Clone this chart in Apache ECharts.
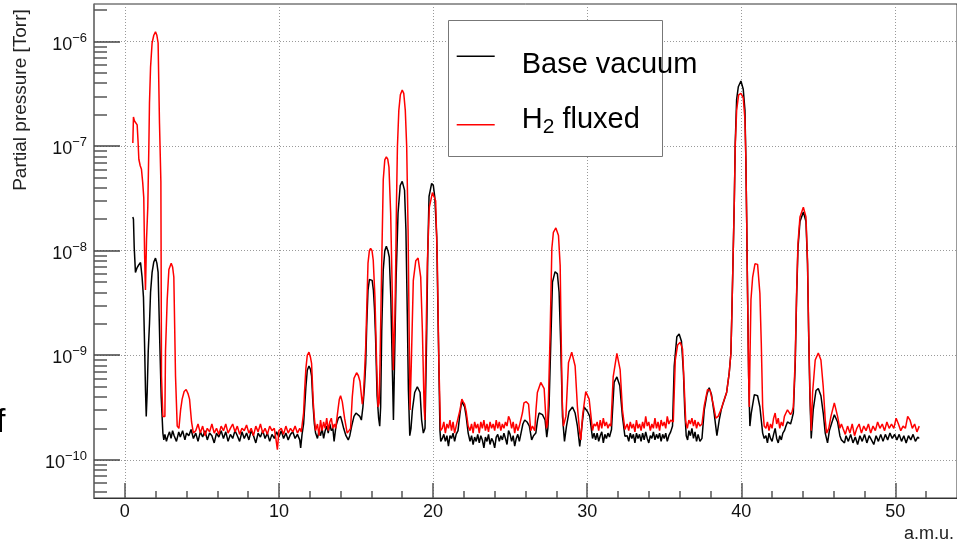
<!DOCTYPE html>
<html><head><meta charset="utf-8">
<script src="https://cdn.jsdelivr.net/npm/echarts@6/dist/echarts.min.js"></script>
<style>html,body{margin:0;padding:0;background:#fff;}#c{width:957px;height:541px;}</style>
</head><body><div id="c"></div>
<script>
// amu, partial pressure [Torr]
const baseVacuum = [
[0.52,2.1e-8],[0.56,2.0e-8],[0.61,1.07e-8],[0.69,6.2e-9],[0.8,6.9e-9],[0.9,7.3e-9],[1.02,7.7e-9],[1.12,5.6e-9],[1.21,3.6e-9],[1.28,1.3e-9],
[1.34,4.7e-10],[1.39,2.6e-10],[1.45,4.4e-10],[1.52,1.1e-9],[1.6,2.0e-9],[1.67,4.0e-9],[1.77,6.2e-9],[1.88,7.8e-9],[1.99,8.5e-9],[2.08,7.6e-9],
[2.16,6.2e-9],[2.27,1.3e-9],[2.36,4.0e-10],[2.47,1.8e-10],[2.53,1.55e-10],[2.6,1.75e-10],[2.7,1.5e-10],[2.8,1.7e-10],[2.9,1.85e-10],[3.0,1.6e-10],
[3.1,1.9e-10],[3.2,1.7e-10],[3.35,1.5e-10],[3.5,1.85e-10],[3.6,1.65e-10],[3.75,1.9e-10],[3.9,1.55e-10],[4.0,1.8e-10],[4.15,1.7e-10],[4.3,1.95e-10],
[4.45,1.6e-10],[4.6,1.8e-10],[4.75,1.5e-10],[4.9,1.85e-10],[5.05,1.65e-10],[5.2,1.9e-10],[5.35,1.55e-10],[5.5,1.8e-10],[5.65,1.7e-10],[5.8,1.45e-10],
[5.95,1.8e-10],[6.1,1.65e-10],[6.25,1.9e-10],[6.4,1.6e-10],[6.55,1.85e-10],[6.7,1.5e-10],[6.85,1.75e-10],[7.0,1.6e-10],[7.15,1.9e-10],[7.3,1.7e-10],
[7.45,1.5e-10],[7.6,1.85e-10],[7.75,1.6e-10],[7.9,1.8e-10],[8.05,1.55e-10],[8.2,1.9e-10],[8.35,1.7e-10],[8.5,1.45e-10],[8.65,1.8e-10],[8.8,1.65e-10],
[8.95,1.9e-10],[9.1,1.6e-10],[9.25,1.8e-10],[9.4,1.5e-10],[9.55,1.75e-10],[9.7,1.6e-10],[9.85,1.85e-10],[10.0,1.65e-10],[10.15,1.9e-10],[10.3,1.6e-10],
[10.45,1.8e-10],[10.6,1.55e-10],[10.75,1.75e-10],[10.9,1.85e-10],[11.05,1.6e-10],[11.2,1.75e-10],[11.35,1.55e-10],[11.41,1.3e-10],[11.5,1.75e-10],[11.6,2.2e-10],
[11.67,3.2e-10],[11.75,5.0e-10],[11.84,7.2e-10],[11.95,7.9e-10],[12.05,7.3e-10],[12.12,6.3e-10],[12.2,3.6e-10],[12.3,2.2e-10],[12.38,1.8e-10],[12.5,1.6e-10],
[12.6,1.9e-10],[12.7,1.7e-10],[12.8,2.0e-10],[12.9,1.6e-10],[13.0,1.9e-10],[13.1,2.1e-10],[13.2,1.8e-10],[13.3,2.2e-10],[13.4,1.9e-10],[13.5,2.0e-10],
[13.58,1.5e-10],[13.7,2.1e-10],[13.85,2.5e-10],[14.0,2.6e-10],[14.1,2.3e-10],[14.2,2.0e-10],[14.35,1.7e-10],[14.5,1.55e-10],[14.6,1.7e-10],[14.72,2.1e-10],
[14.87,2.6e-10],[15.0,2.8e-10],[15.12,2.7e-10],[15.25,2.6e-10],[15.35,2.4e-10],[15.45,3.2e-10],[15.55,5.0e-10],[15.63,8.3e-10],[15.7,2.0e-9],[15.78,4.2e-9],
[15.87,5.3e-9],[15.95,5.5e-9],[16.05,5.2e-9],[16.13,4.2e-9],[16.2,2.8e-9],[16.27,1.5e-9],[16.37,4.1e-10],[16.47,2.5e-10],[16.54,2.1e-10],[16.6,3.2e-10],
[16.67,1.7e-9],[16.77,6.6e-9],[16.87,1.0e-8],[16.97,1.1e-8],[17.07,1.0e-8],[17.16,8.7e-9],[17.26,3.6e-9],[17.37,6.3e-10],[17.43,2.4e-10],[17.5,8.3e-10],
[17.6,5.2e-9],[17.73,2.3e-8],[17.87,4.2e-8],[18.0,4.6e-8],[18.15,3.8e-8],[18.24,1.6e-8],[18.33,2.5e-9],[18.4,4.7e-10],[18.49,1.7e-10],[18.57,2.0e-10],
[18.66,3.0e-10],[18.81,4.4e-10],[18.98,5.0e-10],[19.16,4.4e-10],[19.26,2.4e-10],[19.37,1.8e-10],[19.48,2.0e-10],[19.59,1.7e-9],[19.66,1.0e-8],[19.74,3.3e-8],
[19.91,4.4e-8],[20.02,4.2e-8],[20.11,3.3e-8],[20.24,1.35e-8],[20.34,1.7e-9],[20.45,1.9e-10],[20.5,1.5e-10],[20.6,1.6e-10],[20.7,1.75e-10],[20.8,1.5e-10],
[20.9,1.7e-10],[21.0,1.35e-10],[21.1,1.7e-10],[21.2,1.6e-10],[21.3,1.8e-10],[21.4,1.5e-10],[21.5,1.75e-10],[21.62,1.9e-10],[21.75,2.8e-10],[21.87,3.7e-10],
[21.95,3.4e-10],[22.05,3.2e-10],[22.15,2.6e-10],[22.28,1.8e-10],[22.4,1.5e-10],[22.5,1.7e-10],[22.6,1.4e-10],[22.7,1.65e-10],[22.8,1.5e-10],[22.9,1.75e-10],
[23.0,1.45e-10],[23.1,1.7e-10],[23.2,1.55e-10],[23.3,1.3e-10],[23.4,1.65e-10],[23.5,1.5e-10],[23.6,1.75e-10],[23.7,1.4e-10],[23.8,1.6e-10],[23.9,1.5e-10],
[24.0,1.3e-10],[24.1,1.65e-10],[24.2,1.75e-10],[24.3,1.5e-10],[24.4,1.7e-10],[24.5,1.55e-10],[24.6,1.8e-10],[24.7,1.6e-10],[24.8,1.4e-10],[24.9,1.9e-10],
[25.0,1.75e-10],[25.1,1.5e-10],[25.2,1.7e-10],[25.3,1.35e-10],[25.4,1.6e-10],[25.5,1.75e-10],[25.6,1.5e-10],[25.71,1.8e-10],[25.83,2.2e-10],[25.95,2.4e-10],
[26.1,2.3e-10],[26.25,2.1e-10],[26.4,1.55e-10],[26.52,1.7e-10],[26.67,1.8e-10],[26.78,2.4e-10],[26.88,2.8e-10],[27.0,2.9e-10],[27.1,2.7e-10],[27.27,2.4e-10],
[27.38,1.65e-10],[27.45,2.0e-10],[27.53,3.3e-10],[27.64,1.3e-9],[27.75,5.0e-9],[27.92,6.3e-9],[28.07,6.0e-9],[28.18,4.0e-9],[28.29,1.2e-9],[28.4,2.6e-10],
[28.53,1.5e-10],[28.66,2.1e-10],[28.83,2.9e-10],[29.05,3.2e-10],[29.22,2.8e-10],[29.37,2.1e-10],[29.52,1.34e-10],[29.66,2.1e-10],[29.8,3.2e-10],[30.02,2.9e-10],
[30.17,2.6e-10],[30.35,1.6e-10],[30.45,1.8e-10],[30.55,1.55e-10],[30.65,1.8e-10],[30.75,1.5e-10],[30.85,1.7e-10],[30.95,1.85e-10],[31.05,1.45e-10],[31.15,1.75e-10],
[31.25,1.6e-10],[31.35,1.8e-10],[31.45,1.65e-10],[31.58,1.95e-10],[31.75,5.5e-10],[31.93,6.2e-10],[32.12,5.1e-10],[32.29,2.6e-10],[32.45,1.68e-10],[32.6,1.7e-10],
[32.7,1.5e-10],[32.8,1.8e-10],[32.9,1.6e-10],[33.0,1.75e-10],[33.1,1.45e-10],[33.2,1.8e-10],[33.3,1.6e-10],[33.4,1.75e-10],[33.5,1.5e-10],[33.6,1.8e-10],
[33.7,1.55e-10],[33.8,1.85e-10],[33.9,1.6e-10],[34.0,1.45e-10],[34.1,1.7e-10],[34.2,1.6e-10],[34.3,1.85e-10],[34.4,1.55e-10],[34.5,1.75e-10],[34.6,1.6e-10],
[34.7,1.8e-10],[34.8,1.5e-10],[34.9,1.75e-10],[35.0,1.6e-10],[35.1,1.8e-10],[35.2,1.5e-10],[35.3,1.7e-10],[35.42,1.85e-10],[35.54,2.1e-10],[35.65,7.9e-10],
[35.82,1.5e-9],[35.97,1.6e-9],[36.12,1.36e-9],[36.25,6.8e-10],[36.34,2.8e-10],[36.43,1.7e-10],[36.52,1.55e-10],[36.6,1.9e-10],[36.7,1.7e-10],[36.8,2.0e-10],
[36.9,1.6e-10],[37.0,1.85e-10],[37.1,1.5e-10],[37.2,1.75e-10],[37.32,1.5e-10],[37.45,1.6e-10],[37.6,3.0e-10],[37.77,4.2e-10],[37.92,4.9e-10],[38.07,4.2e-10],
[38.24,2.8e-10],[38.42,1.7e-10],[38.57,2.4e-10],[38.7,3.0e-10],[38.83,3.5e-10],[39.05,4.4e-10],[39.22,6.8e-10],[39.33,1.05e-9],[39.39,2.5e-9],[39.48,1.0e-8],
[39.55,3.0e-8],[39.61,1.07e-7],[39.7,2.8e-7],[39.81,3.7e-7],[39.98,4.2e-7],[40.13,3.5e-7],[40.24,2.2e-7],[40.3,7.4e-8],[40.35,2.1e-8],[40.41,3.9e-9],
[40.48,6.3e-10],[40.56,2.1e-10],[40.65,2.8e-10],[40.85,4.2e-10],[41.06,4.1e-10],[41.21,3.2e-10],[41.39,1.8e-10],[41.49,1.6e-10],[41.6,1.7e-10],[41.7,1.45e-10],
[41.8,1.8e-10],[41.9,1.6e-10],[42.0,1.5e-10],[42.1,1.75e-10],[42.2,2.0e-10],[42.3,1.6e-10],[42.4,1.45e-10],[42.5,1.7e-10],[42.6,1.55e-10],[42.7,1.8e-10],
[42.8,1.9e-10],[42.9,2.1e-10],[43.0,2.3e-10],[43.1,2.4e-10],[43.2,2.2e-10],[43.3,2.5e-10],[43.38,2.8e-10],[43.5,8.0e-10],[43.59,3.5e-9],[43.68,1.05e-8],
[43.81,1.9e-8],[44.03,2.35e-8],[44.2,1.9e-8],[44.3,7.5e-9],[44.37,1.7e-9],[44.46,3.8e-10],[44.54,1.6e-10],[44.67,3.0e-10],[44.85,4.6e-10],[45.0,4.8e-10],
[45.17,4.1e-10],[45.32,2.8e-10],[45.45,1.8e-10],[45.6,1.45e-10],[45.72,1.9e-10],[45.85,2.2e-10],[46.04,2.7e-10],[46.25,2.3e-10],[46.4,1.7e-10],[46.5,1.55e-10],
[46.6,1.6e-10],[46.7,1.45e-10],[46.8,1.7e-10],[46.95,1.5e-10],[47.1,1.75e-10],[47.25,1.45e-10],[47.4,1.65e-10],[47.55,1.4e-10],[47.7,1.7e-10],[47.85,1.5e-10],
[48.0,1.75e-10],[48.15,1.45e-10],[48.3,1.7e-10],[48.45,1.55e-10],[48.6,1.4e-10],[48.75,1.7e-10],[48.9,1.5e-10],[49.05,1.75e-10],[49.2,1.5e-10],[49.35,1.75e-10],
[49.5,1.55e-10],[49.65,1.8e-10],[49.8,1.6e-10],[49.95,1.75e-10],[50.1,1.55e-10],[50.25,1.75e-10],[50.4,1.5e-10],[50.55,1.7e-10],[50.7,1.45e-10],[50.85,1.7e-10],
[51.0,1.55e-10],[51.15,1.75e-10],[51.3,1.5e-10],[51.45,1.65e-10],[51.55,1.6e-10]
];
const h2Fluxed = [
[0.52,1.07e-7],[0.56,1.9e-7],[0.62,1.75e-7],[0.7,1.7e-7],[0.8,1.6e-7],[0.86,1.1e-7],[0.91,7.5e-8],[1.0,6.5e-8],[1.08,6.0e-8],[1.16,4.5e-8],
[1.23,3.2e-8],[1.28,1.0e-8],[1.31,6.0e-9],[1.34,4.2e-9],[1.41,1.3e-8],[1.49,2.6e-8],[1.56,1.0e-7],[1.6,2.6e-7],[1.67,5.7e-7],[1.77,9.7e-7],
[1.88,1.15e-6],[1.99,1.24e-6],[2.08,1.15e-6],[2.16,9.7e-7],[2.25,1.66e-7],[2.34,4.6e-8],[2.38,6.3e-10],[2.47,2.6e-10],[2.6,2.6e-10],[2.64,1.1e-9],
[2.75,3.4e-9],[2.86,6.6e-9],[3.01,7.6e-9],[3.1,7.0e-9],[3.18,5.6e-9],[3.29,6.3e-10],[3.4,2.1e-10],[3.51,2.0e-10],[3.62,3.0e-10],[3.72,3.8e-10],
[3.85,4.5e-10],[3.98,4.7e-10],[4.1,4.3e-10],[4.2,3.8e-10],[4.33,2.3e-10],[4.45,1.8e-10],[4.6,1.9e-10],[4.75,2.2e-10],[4.9,1.8e-10],[5.05,2.1e-10],
[5.2,1.7e-10],[5.35,2.0e-10],[5.5,1.85e-10],[5.65,2.2e-10],[5.8,1.8e-10],[5.95,2.0e-10],[6.1,1.75e-10],[6.25,2.1e-10],[6.4,1.9e-10],[6.55,2.2e-10],
[6.7,1.8e-10],[6.85,2.0e-10],[7.0,2.2e-10],[7.15,1.85e-10],[7.3,2.1e-10],[7.45,1.75e-10],[7.6,2.0e-10],[7.75,1.9e-10],[7.9,2.15e-10],[8.05,1.8e-10],
[8.2,2.0e-10],[8.35,1.7e-10],[8.5,2.1e-10],[8.65,1.85e-10],[8.8,2.2e-10],[8.95,1.8e-10],[9.1,2.0e-10],[9.25,1.75e-10],[9.4,2.1e-10],[9.55,1.9e-10],
[9.7,2.0e-10],[9.8,1.6e-10],[9.9,1.25e-10],[10.0,1.9e-10],[10.15,2.0e-10],[10.3,1.75e-10],[10.45,2.1e-10],[10.6,1.8e-10],[10.75,2.0e-10],[10.9,1.85e-10],
[11.05,2.1e-10],[11.2,1.8e-10],[11.35,2.0e-10],[11.45,1.85e-10],[11.52,1.9e-10],[11.6,2.8e-10],[11.67,4.7e-10],[11.75,7.5e-10],[11.84,1.0e-9],[11.95,1.07e-9],
[12.05,9.5e-10],[12.12,8.3e-10],[12.23,3.5e-10],[12.3,2.5e-10],[12.38,1.9e-10],[12.5,2.2e-10],[12.6,1.7e-10],[12.7,2.4e-10],[12.8,1.9e-10],[12.9,2.3e-10],
[13.0,2.0e-10],[13.1,2.5e-10],[13.2,1.9e-10],[13.3,2.3e-10],[13.4,2.5e-10],[13.5,2.0e-10],[13.6,2.2e-10],[13.68,2.0e-10],[13.83,3.0e-10],[13.92,3.8e-10],
[14.0,4.1e-10],[14.11,3.6e-10],[14.26,2.5e-10],[14.43,1.8e-10],[14.55,1.9e-10],[14.65,2.0e-10],[14.76,4.0e-10],[14.87,6.0e-10],[15.04,6.8e-10],[15.15,6.4e-10],
[15.26,5.6e-10],[15.41,3.4e-10],[15.48,4.1e-10],[15.56,7.0e-10],[15.63,1.2e-9],[15.69,2.5e-9],[15.78,7.6e-9],[15.87,1.0e-8],[15.95,1.05e-8],[16.04,1.0e-8],
[16.12,8.1e-9],[16.23,3.6e-9],[16.34,8.3e-10],[16.43,3.2e-10],[16.5,3.5e-10],[16.56,8.3e-10],[16.67,7.6e-9],[16.77,4.8e-8],[16.87,7.4e-8],[16.97,7.9e-8],
[17.06,7.5e-8],[17.14,6.3e-8],[17.25,2.3e-8],[17.36,3.6e-9],[17.42,7.2e-10],[17.47,7.2e-10],[17.53,2.5e-9],[17.58,7.6e-9],[17.63,3.0e-8],[17.69,1.0e-7],
[17.78,2.2e-7],[17.88,3.1e-7],[18.0,3.45e-7],[18.1,3.2e-7],[18.2,2.2e-7],[18.29,1.0e-7],[18.38,1.6e-8],[18.45,1.7e-9],[18.51,3.0e-10],[18.59,8.3e-10],
[18.72,5.2e-9],[18.88,8.0e-9],[19.03,8.5e-9],[19.2,5.6e-9],[19.31,1.7e-9],[19.42,3.2e-10],[19.47,2.4e-10],[19.52,8.3e-10],[19.63,7.6e-9],[19.76,2.6e-8],
[19.96,3.6e-8],[20.17,3.0e-8],[20.28,7.6e-9],[20.38,8.3e-10],[20.49,1.9e-10],[20.6,2.0e-10],[20.7,2.3e-10],[20.8,1.8e-10],[20.9,2.2e-10],[21.0,2.0e-10],
[21.1,2.4e-10],[21.2,1.9e-10],[21.3,2.3e-10],[21.4,1.8e-10],[21.5,2.1e-10],[21.62,2.1e-10],[21.75,3.0e-10],[21.87,3.8e-10],[21.95,3.6e-10],[22.05,3.4e-10],
[22.15,2.9e-10],[22.28,2.1e-10],[22.4,1.9e-10],[22.5,2.2e-10],[22.6,1.8e-10],[22.7,2.3e-10],[22.8,2.0e-10],[22.9,2.2e-10],[23.0,1.8e-10],[23.1,2.3e-10],
[23.2,2.0e-10],[23.3,2.4e-10],[23.4,1.9e-10],[23.5,2.2e-10],[23.6,1.85e-10],[23.7,2.3e-10],[23.8,2.0e-10],[23.9,2.2e-10],[24.0,1.9e-10],[24.1,2.4e-10],
[24.2,2.0e-10],[24.3,2.3e-10],[24.4,1.9e-10],[24.5,2.2e-10],[24.6,2.0e-10],[24.7,2.3e-10],[24.8,2.1e-10],[24.9,2.6e-10],[25.0,2.4e-10],[25.1,2.0e-10],
[25.2,2.3e-10],[25.3,1.8e-10],[25.4,2.2e-10],[25.5,1.9e-10],[25.6,2.1e-10],[25.71,2.1e-10],[25.8,2.8e-10],[25.9,3.5e-10],[26.05,3.6e-10],[26.2,3.4e-10],
[26.34,1.9e-10],[26.45,2.1e-10],[26.6,1.9e-10],[26.68,3.0e-10],[26.77,4.4e-10],[26.99,5.5e-10],[27.21,4.8e-10],[27.36,2.0e-10],[27.43,2.2e-10],[27.49,3.8e-10],
[27.6,1.65e-9],[27.71,1.05e-8],[27.81,1.5e-8],[27.97,1.65e-8],[28.14,1.4e-8],[28.25,7.2e-9],[28.31,1.65e-9],[28.38,3.8e-10],[28.46,2.1e-10],[28.62,2.6e-10],
[28.79,8.5e-10],[29.0,1.07e-9],[29.22,7.9e-10],[29.37,3.2e-10],[29.52,1.8e-10],[29.59,1.55e-10],[29.7,2.6e-10],[29.91,4.5e-10],[30.13,3.8e-10],[30.35,1.9e-10],
[30.45,2.2e-10],[30.56,2.1e-10],[30.65,2.3e-10],[30.75,1.9e-10],[30.85,2.4e-10],[30.95,2.0e-10],[31.05,2.5e-10],[31.15,2.1e-10],[31.25,2.3e-10],[31.35,2.0e-10],
[31.45,2.2e-10],[31.54,2.1e-10],[31.69,6.2e-10],[31.93,1.04e-9],[32.14,7.3e-10],[32.29,3.0e-10],[32.45,1.95e-10],[32.6,2.2e-10],[32.7,1.9e-10],[32.8,2.3e-10],
[32.9,2.0e-10],[33.0,2.2e-10],[33.1,1.85e-10],[33.2,2.4e-10],[33.3,2.0e-10],[33.4,2.2e-10],[33.5,1.9e-10],[33.6,2.3e-10],[33.7,2.0e-10],[33.8,2.6e-10],
[33.9,2.1e-10],[34.0,2.3e-10],[34.1,1.9e-10],[34.2,2.2e-10],[34.3,2.0e-10],[34.4,2.5e-10],[34.5,2.0e-10],[34.6,2.3e-10],[34.7,1.9e-10],[34.8,2.4e-10],
[34.9,2.1e-10],[35.0,2.3e-10],[35.1,2.0e-10],[35.2,2.6e-10],[35.3,2.2e-10],[35.42,2.4e-10],[35.59,2.3e-10],[35.72,9.0e-10],[35.87,1.25e-9],[36.04,1.33e-9],
[36.19,1.15e-9],[36.29,5.4e-10],[36.4,2.3e-10],[36.5,2.0e-10],[36.6,2.4e-10],[36.7,2.2e-10],[36.8,2.5e-10],[36.9,2.1e-10],[37.0,2.4e-10],[37.1,2.0e-10],
[37.2,2.3e-10],[37.32,2.1e-10],[37.45,2.2e-10],[37.6,3.3e-10],[37.81,4.7e-10],[37.98,4.6e-10],[38.2,3.3e-10],[38.35,2.5e-10],[38.5,2.6e-10],[38.68,3.0e-10],
[38.85,3.6e-10],[39.05,4.4e-10],[39.22,6.8e-10],[39.33,1.05e-9],[39.39,2.5e-9],[39.48,1.0e-8],[39.55,3.0e-8],[39.61,1.0e-7],[39.7,2.2e-7],[39.83,3.1e-7],
[39.98,3.2e-7],[40.13,2.9e-7],[40.24,1.8e-7],[40.3,7.4e-8],[40.35,2.1e-8],[40.41,3.9e-9],[40.48,6.3e-10],[40.52,3.2e-10],[40.57,1.0e-9],[40.63,3.4e-9],
[40.74,5.6e-9],[40.89,7.5e-9],[41.06,7.4e-9],[41.21,3.9e-9],[41.3,1.3e-9],[41.39,3.2e-10],[41.49,2.1e-10],[41.6,2.0e-10],[41.7,2.3e-10],[41.8,1.9e-10],
[41.9,2.2e-10],[42.0,2.0e-10],[42.1,2.5e-10],[42.2,2.8e-10],[42.3,2.2e-10],[42.4,2.5e-10],[42.5,2.0e-10],[42.6,2.3e-10],[42.7,2.1e-10],[42.8,2.6e-10],
[42.9,2.8e-10],[43.0,3.0e-10],[43.1,3.1e-10],[43.2,2.7e-10],[43.3,2.9e-10],[43.38,3.2e-10],[43.5,9.1e-10],[43.59,3.9e-9],[43.68,1.17e-8],[43.81,2.1e-8],
[44.03,2.6e-8],[44.2,2.1e-8],[44.3,8.1e-9],[44.37,1.9e-9],[44.46,4.4e-10],[44.54,1.9e-10],[44.63,4.4e-10],[44.8,9.0e-10],[45.0,1.05e-9],[45.17,9.0e-10],
[45.32,5.0e-10],[45.45,2.4e-10],[45.54,1.8e-10],[45.68,2.0e-10],[45.82,2.6e-10],[46.04,3.5e-10],[46.25,2.6e-10],[46.4,2.0e-10],[46.5,2.2e-10],[46.6,2.0e-10],
[46.75,1.75e-10],[46.9,2.1e-10],[47.05,1.8e-10],[47.2,2.2e-10],[47.35,1.7e-10],[47.5,2.0e-10],[47.65,2.2e-10],[47.8,1.8e-10],[47.95,2.1e-10],[48.1,1.9e-10],
[48.25,2.2e-10],[48.4,1.8e-10],[48.55,2.1e-10],[48.7,1.9e-10],[48.85,2.3e-10],[49.0,2.0e-10],[49.15,2.2e-10],[49.3,1.9e-10],[49.45,2.3e-10],[49.6,2.0e-10],
[49.75,2.2e-10],[49.9,2.0e-10],[50.05,2.5e-10],[50.2,2.2e-10],[50.35,1.9e-10],[50.5,2.1e-10],[50.65,2.0e-10],[50.8,2.6e-10],[50.95,2.4e-10],[51.1,2.0e-10],
[51.25,2.2e-10],[51.4,1.85e-10],[51.55,2.1e-10]
];
const seriesNames = ['Base vacuum', 'H2 fluxed'];
const xMajorTicks = [0, 10, 20, 30, 40, 50];
const xMinorTicks = [2, 4, 6, 8, 12, 14, 16, 18, 22, 24, 26, 28, 32, 34, 36, 38, 42, 44, 46, 48, 52];
const yMajorTicks = [1e-10, 1e-9, 1e-8, 1e-7, 1e-6];
const yMinorTicks = [5e-11, 6e-11, 7e-11, 8e-11, 9e-11,
  2e-10, 3e-10, 4e-10, 5e-10, 6e-10, 7e-10, 8e-10, 9e-10,
  2e-9, 3e-9, 4e-9, 5e-9, 6e-9, 7e-9, 8e-9, 9e-9,
  2e-8, 3e-8, 4e-8, 5e-8, 6e-8, 7e-8, 8e-8, 9e-8,
  2e-7, 3e-7, 4e-7, 5e-7, 6e-7, 7e-7, 8e-7, 9e-7, 2e-6];

const FONT = 'Liberation Sans, Arial, Helvetica, sans-serif';
const X_MIN = -2, X_MAX = 54;
const Y_MIN = 4.31e-11, Y_MAX = 2.29e-6;

const chart = echarts.init(document.getElementById('c'), null, {renderer: 'canvas'});

function expLabel(v) {
  const e = Math.log10(v);
  const n = Math.round(e);
  if (Math.abs(e - n) > 1e-6) return '';
  return '{b|10}{e|\u2212' + (-n) + '}';
}

// legend sample icons: a thin line placed at the top (first entry) / bottom (second entry) of the icon box
const iconLineTop = 'path://M0,0H38V1.5H0Z M0,18.99H0.01V19H0Z';
const iconLineBottom = 'path://M0,0H0.01V0.01H0Z M0,10.5H38V12H0Z';

const option = {
  animation: false,
  backgroundColor: '#ffffff',
  grid: {left: 94, right: 0, top: 4, bottom: 43, show: true, borderColor: '#333', borderWidth: 1, backgroundColor: 'transparent'},
  xAxis: [
    {
      type: 'value', min: X_MIN, max: X_MAX, position: 'bottom',
      axisLine: {show: true, onZero: false, lineStyle: {color: '#333', width: 1.2}},
      axisTick: {show: true, inside: true, length: 15, customValues: xMajorTicks, lineStyle: {color: '#555', width: 1.5}},
      axisLabel: {show: true, customValues: xMajorTicks, fontSize: 18, color: '#111', margin: 5, fontFamily: FONT},
      splitLine: {show: true, lineStyle: {color: '#999', width: 1, type: [1, 2]}}
    },
    {
      type: 'value', min: X_MIN, max: X_MAX, position: 'bottom',
      axisLine: {show: false, onZero: false},
      axisTick: {show: true, inside: true, length: 7, customValues: xMinorTicks, lineStyle: {color: '#555', width: 1.5}},
      axisLabel: {show: false},
      splitLine: {show: false}
    }
  ],
  yAxis: [
    {
      type: 'log', logBase: 10, min: Y_MIN, max: Y_MAX, position: 'left',
      axisLine: {show: true, onZero: false, lineStyle: {color: '#777', width: 1.5}},
      axisTick: {show: true, inside: true, length: 26, customValues: yMajorTicks, lineStyle: {color: '#444', width: 1.5}},
      axisLabel: {
        show: true, customValues: yMajorTicks, margin: 7, formatter: expLabel, padding: [6, 0, 0, 0],
        rich: {
          b: {fontSize: 18, lineHeight: 20, color: '#111', fontFamily: FONT},
          e: {fontSize: 13, lineHeight: 13, color: '#111', fontFamily: FONT, padding: [0, 0, 13, 0]}
        }
      },
      splitLine: {show: true, lineStyle: {color: '#999', width: 1, type: [1, 2]}}
    },
    {
      type: 'log', logBase: 10, min: Y_MIN, max: Y_MAX, position: 'left',
      axisLine: {show: false, onZero: false},
      axisTick: {show: true, inside: true, length: 13, customValues: yMinorTicks, lineStyle: {color: '#555', width: 1.5}},
      axisLabel: {show: false},
      splitLine: {show: false}
    }
  ],
  legend: [
    {
      data: [seriesNames[0]], left: 456.7, top: 50, orient: 'vertical', padding: 0,
      icon: iconLineTop, itemWidth: 38, itemHeight: 19, selectedMode: false, z: 10,
      textStyle: {fontSize: 29, lineHeight: 30, color: '#000', fontFamily: FONT, padding: [0, 0, 0, 22]}
    },
    {
      data: [seriesNames[1]], left: 456.7, top: 101.5, orient: 'vertical', padding: 0,
      icon: iconLineBottom, itemWidth: 38, itemHeight: 12, selectedMode: false, z: 10,
      formatter: function () { return '{t|H}{s|2}{t| fluxed}'; },
      textStyle: {
        fontSize: 29, lineHeight: 30, color: '#000', fontFamily: FONT, padding: [0, 0, 0, 22],
        rich: {
          t: {fontSize: 29, lineHeight: 30, color: '#000', fontFamily: FONT},
          s: {fontSize: 21, lineHeight: 21, color: '#000', fontFamily: FONT, padding: [15, 0, 0, 0]}
        }
      }
    }
  ],
  graphic: [
    {type: 'rect', z: 5, shape: {x: 448.5, y: 20.5, width: 214, height: 136}, style: {fill: '#fff', stroke: '#777', lineWidth: 1}},
    {type: 'text', z: 6, x: 21, y: 100, rotation: Math.PI / 2,
     style: {text: 'Partial pressure [Torr]', fontSize: 19, fontFamily: FONT, fill: '#222', align: 'center', verticalAlign: 'middle'}},
    {type: 'text', z: 6, x: 954, y: 534,
     style: {text: 'a.m.u.', fontSize: 18, fontFamily: FONT, fill: '#222', align: 'right', verticalAlign: 'middle'}},
    {type: 'text', z: 6, x: -4, y: 423,
     style: {text: 'f', fontSize: 34, fontFamily: FONT, fill: '#000', align: 'left', verticalAlign: 'middle'}}
  ],
  series: [
    {name: seriesNames[0], type: 'line', xAxisIndex: 0, yAxisIndex: 0, data: baseVacuum, showSymbol: false, symbol: 'none',
     color: '#000000', lineStyle: {color: '#000000', width: 1.5}, z: 2},
    {name: seriesNames[1], type: 'line', xAxisIndex: 0, yAxisIndex: 0, data: h2Fluxed, showSymbol: false, symbol: 'none',
     color: '#ff0000', lineStyle: {color: '#ff0000', width: 1.5}, z: 3}
  ]
};
chart.setOption(option);
</script>
</body></html>
